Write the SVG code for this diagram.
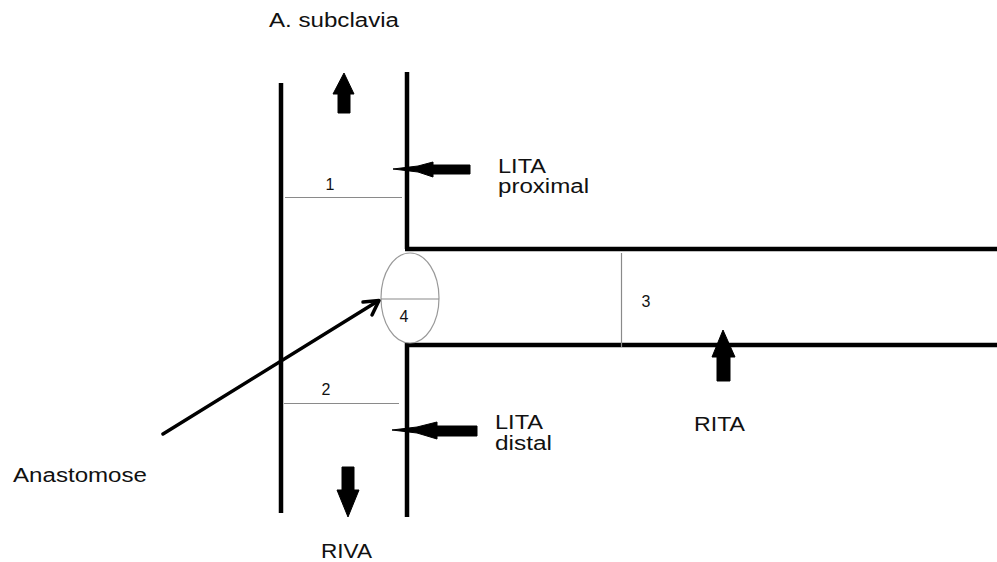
<svg xmlns="http://www.w3.org/2000/svg" width="997" height="562" viewBox="0 0 997 562">
<style>
.v{stroke:#000;stroke-width:4.5;fill:none}
.g{stroke:#8a8a8a;stroke-width:1.2;fill:none}
.a{fill:#000;stroke:#000;stroke-width:1;stroke-linejoin:round}
.t{font-family:"Liberation Sans",Arial,sans-serif;font-size:19.5px;fill:#111}
.n{font-family:"Liberation Sans",Arial,sans-serif;font-size:16px;fill:#111;text-anchor:middle}
</style>
<rect width="997" height="562" fill="#fff"/>
<g id="vessels">
<line class="v" x1="281" y1="83" x2="281" y2="513"/>
<line class="v" x1="407" y1="72" x2="407" y2="249"/>
<line class="v" x1="407" y1="343" x2="407" y2="517"/>
<line class="v" x1="405" y1="249" x2="997" y2="249"/>
<line class="v" x1="405" y1="345" x2="997" y2="345"/>
</g>
<g id="measures">
<line class="g" x1="285" y1="197.5" x2="402" y2="197.5"/>
<text class="n" x="330" y="190">1</text>
<line class="g" x1="284" y1="403.5" x2="399" y2="403.5"/>
<text class="n" x="326" y="395">2</text>
<line class="g" x1="621.5" y1="253" x2="621.5" y2="347"/>
<text class="n" x="646" y="307">3</text>
</g>
<g id="anastomosis">
<ellipse cx="410" cy="298" rx="29" ry="45" fill="#fff" stroke="#999" stroke-width="1.2"/>
<line class="g" x1="381" y1="299" x2="439" y2="299"/>
<text class="n" x="404" y="322">4</text>
</g>
<g id="flow-arrows">
<polygon class="a" points="344,73 354,94 350,94 350,113 338,113 338,94 333,94"/>
<polygon class="a" points="348,517 359,490 354,490 354,467 342,467 342,490 337,490"/>
<polygon class="a" points="723,330 735,357 730,357 730,381 717,381 717,357 712,357"/>
<polygon class="a" points="393,169 418,166 433,162 433,165 470,165 470,174 433,174 433,177 418,172"/>
<polygon class="a" points="392,430 417,427 437,422 437,426 477,426 477,436 437,436 437,439 417,433"/>
</g>
<g id="connectors">
<line x1="163" y1="434" x2="378" y2="301" stroke="#000" stroke-width="3.5" stroke-linecap="round"/>
<polyline points="363,302 379,300.5 372,315" fill="none" stroke="#000" stroke-width="3.5" stroke-linecap="round" stroke-linejoin="round"/>
</g>
<g id="labels">
<text class="t" x="269" y="27" textLength="130" lengthAdjust="spacingAndGlyphs">A. subclavia</text>
<text class="t" x="498" y="173" textLength="48" lengthAdjust="spacingAndGlyphs">LITA</text>
<text class="t" x="498" y="193" textLength="91" lengthAdjust="spacingAndGlyphs">proximal</text>
<text class="t" x="495" y="429" textLength="48" lengthAdjust="spacingAndGlyphs">LITA</text>
<text class="t" x="495" y="450" textLength="57" lengthAdjust="spacingAndGlyphs">distal</text>
<text class="t" x="13" y="482" textLength="134" lengthAdjust="spacingAndGlyphs">Anastomose</text>
<text class="t" x="321" y="558" textLength="51" lengthAdjust="spacingAndGlyphs">RIVA</text>
<text class="t" x="694" y="431" textLength="51" lengthAdjust="spacingAndGlyphs">RITA</text>
</g>
</svg>
